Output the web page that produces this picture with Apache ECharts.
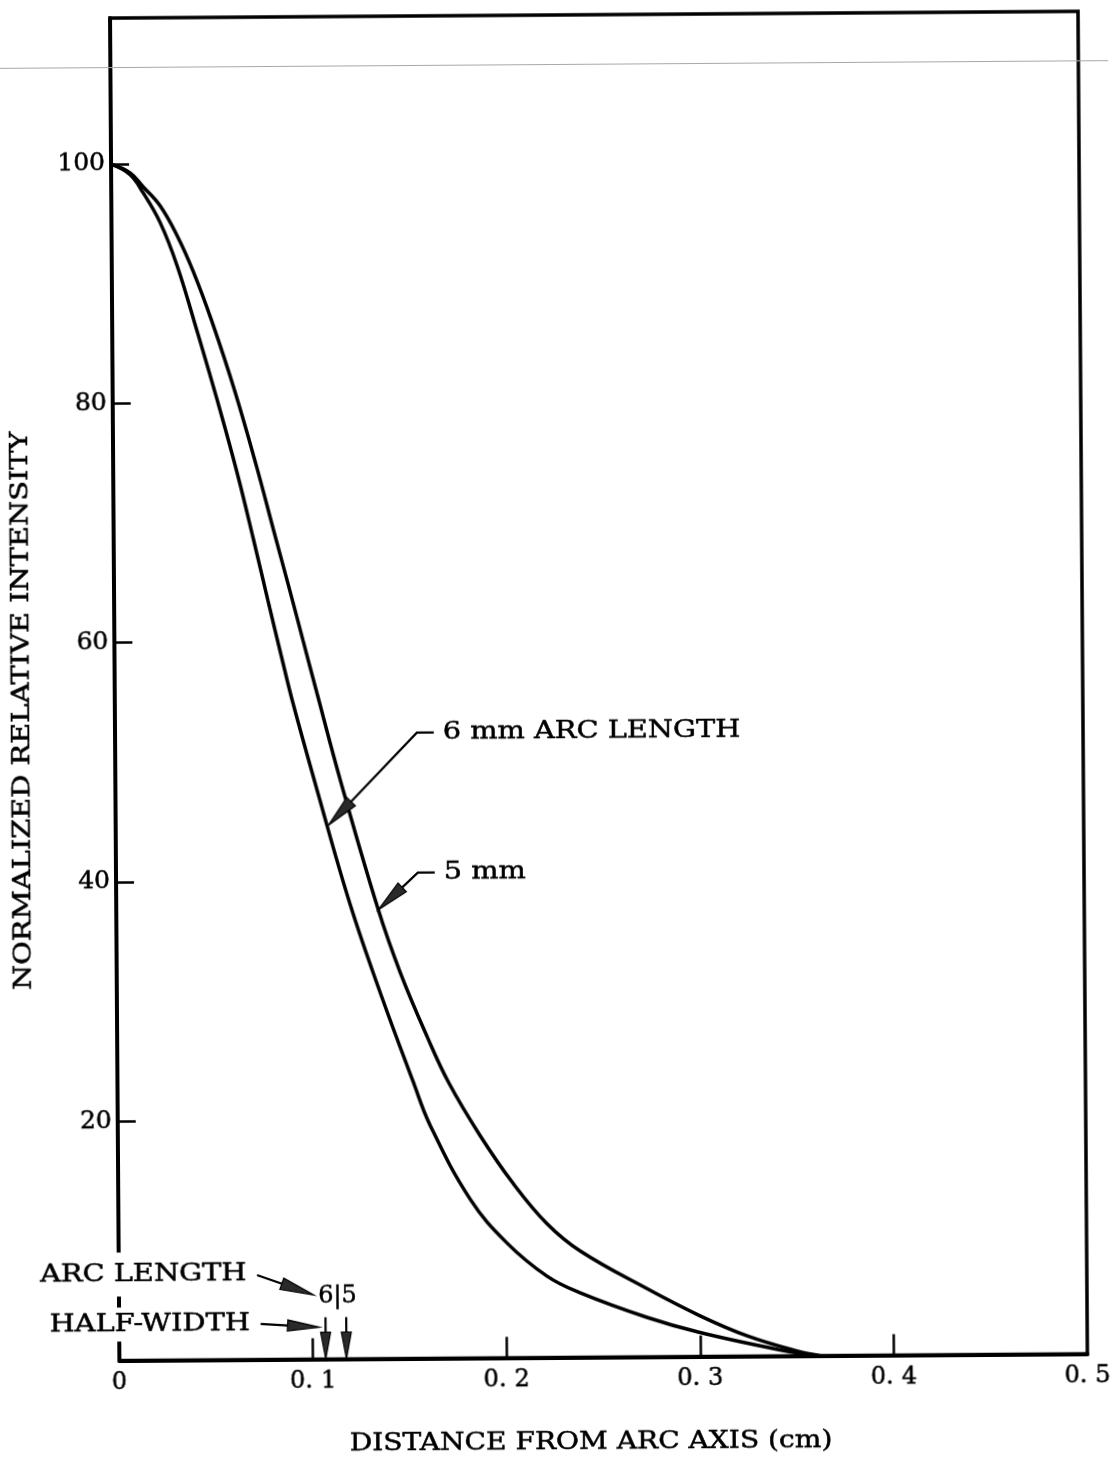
<!DOCTYPE html>
<html>
<head>
<meta charset="utf-8">
<script src="https://cdn.jsdelivr.net/npm/echarts@6/dist/echarts.min.js"></script>
<style>
  html, body { margin: 0; padding: 0; background: #fff; overflow: hidden; }
  #chart { width: 1113px; height: 1457px; transform: rotate(-0.4deg); transform-origin: 50% 50%; }
</style>
</head>
<body>
<div id="chart"></div>
<script>
// Radial intensity profiles of the arc column (distance in cm, intensity in %)
const DIST_6MM = [0, 0.0098, 0.0164, 0.0251, 0.0337, 0.0438, 0.0552, 0.0645, 0.0720, 0.0795, 0.0860, 0.0921, 0.1041, 0.1208, 0.1367, 0.1526, 0.1613, 0.1817, 0.2006, 0.2212, 0.2381, 0.2727, 0.3000, 0.3413, 0.3600];
const INT_6MM  = [100, 99.1, 97.6, 95.1, 91.5, 86.0, 79.5, 73.8, 68.7, 63.4, 58.9, 54.8, 47.6, 38.0, 30.3, 23.2, 19.5, 13.3, 9.6, 6.8, 5.4, 3.3, 2.0, 0.5, 0];
const DIST_5MM = [0, 0.0098, 0.0164, 0.0251, 0.0338, 0.0420, 0.0515, 0.0632, 0.0743, 0.0828, 0.0909, 0.0974, 0.1044, 0.1160, 0.1352, 0.1464, 0.1601, 0.1712, 0.1871, 0.2039, 0.2213, 0.2383, 0.2728, 0.3001, 0.3243, 0.3500, 0.3619];
const INT_5MM  = [100, 99.25, 98.1, 96.5, 94.0, 91.0, 86.8, 80.9, 74.5, 69.2, 64.2, 60.1, 55.7, 48.5, 37.6, 32.3, 26.9, 23.0, 18.6, 14.6, 11.2, 8.9, 5.7, 3.4, 1.7, 0.4, 0];

// Axis ticks
const X_TICKS = [0, 0.1, 0.2, 0.3, 0.4, 0.5];
const Y_TICKS = [20, 40, 60, 80, 100];

// Half-width markers for each arc length (cm)
const ARC_LENGTHS = ['6', '5'];
const HALF_WIDTH = [0.1066, 0.1173];

// Curve callouts: label anchor, leader elbow and arrow tip in data units
const CALLOUTS = [
  { text: '6 mm ARC LENGTH', at: [0.1693, 52.3], elbow: [0.1559, 52.3], tip: [0.1098, 44.6] },
  { text: '5 mm',            at: [0.1693, 40.6], elbow: [0.1559, 40.6], tip: [0.1353, 37.5] }
];

// Key in the lower-left corner
const KEY_ARC   = { text: 'ARC LENGTH', at: [0.0678, 7.19], from: [0.0714, 7.06], tip: [0.1007, 5.37] };
const KEY_HALF  = { text: 'HALF-WIDTH', at: [0.0694, 3.01], from: [0.0731, 2.97], tip: [0.1035, 2.67] };
const KEY_DIGITS = { at: [0.1129, 5.28] };
const MARKER_TOP = 3.5;

const FONT = 'DejaVu Serif';
const INK = '#000';

const pairs = (xs, ys) => xs.map((x, i) => [x, ys[i]]);

const chart = echarts.init(document.getElementById('chart'), null, { renderer: 'canvas' });

const labelInk = { color: INK, textBorderColor: INK, textBorderWidth: 0.5 };

const option = {
  animation: false,
  backgroundColor: '#fff',
  grid: {
    left: 115, right: 30, top: 15, bottom: 99.5,
    show: true, borderColor: INK, borderWidth: 3.5,
    outerBoundsMode: 'none'
  },
  xAxis: {
    type: 'value', min: 0, max: 0.5,
    axisLine: { show: true, onZero: false, lineStyle: { color: INK, width: 4 } },
    axisTick: { show: true, inside: true, length: 21, lineStyle: { color: INK, width: 2.5 },
                customValues: X_TICKS.slice(1, -1) },
    splitLine: { show: false },
    axisLabel: Object.assign({
      customValues: X_TICKS,
      margin: 10,
      fontFamily: FONT, fontSize: 24,
      formatter: v => {
        if (v === 0) return '0';
        const [a, b] = v.toFixed(1).split('.');
        return '{n|' + a + '.}{d|' + b + '}';
      },
      rich: {
        n: Object.assign({ fontFamily: FONT, fontSize: 24 }, labelInk),
        d: Object.assign({ fontFamily: FONT, fontSize: 24, padding: [0, 0, 0, 8] }, labelInk)
      }
    }, labelInk)
  },
  yAxis: {
    type: 'value', min: 0, max: 112.2,
    axisLine: { show: true, onZero: false, lineStyle: { color: INK, width: 4 } },
    axisTick: { show: true, inside: true, length: 18, lineStyle: { color: INK, width: 2.5 },
                customValues: Y_TICKS },
    splitLine: { show: false },
    axisLabel: Object.assign({ customValues: Y_TICKS, margin: 6, fontFamily: FONT, fontSize: 25 }, labelInk)
  },
  series: [
    { name: '6 mm', type: 'line', data: pairs(DIST_6MM, INT_6MM), showSymbol: false, smooth: 0.4,
      lineStyle: { color: INK, width: 3.5 }, z: 5 },
    { name: '5 mm', type: 'line', data: pairs(DIST_5MM, INT_5MM), showSymbol: false, smooth: 0.4,
      lineStyle: { color: INK, width: 3.5 }, z: 5 }
  ]
};

chart.setOption(option);

const px = p => chart.convertToPixel({ gridIndex: 0 }, p);

function text(str, p, align, extra, styleExtra) {
  return Object.assign({
    type: 'text', x: p[0], y: p[1], scaleX: 1.2, z: 102,
    style: Object.assign({
      text: str, fontFamily: FONT, fontSize: 24, fill: INK, stroke: INK, lineWidth: 0.5,
      align: align, textAlign: align, verticalAlign: 'middle', textVerticalAlign: 'middle'
    }, styleExtra || {})
  }, extra || {});
}

// Leader line ending in a tapered, filled arrowhead
function arrow(points, headLen, headW) {
  const T = points[points.length - 1], F = points[points.length - 2];
  const dx = T[0] - F[0], dy = T[1] - F[1], L = Math.hypot(dx, dy);
  const ux = dx / L, uy = dy / L;
  const B = [T[0] - ux * headLen, T[1] - uy * headLen];
  const nx = -uy * headW, ny = ux * headW;
  return [
    { type: 'polyline', z: 100, shape: { points: points.slice(0, -1).concat([B]) },
      style: { stroke: INK, lineWidth: 2.2, fill: null } },
    { type: 'polygon', z: 101, shape: { points: [[B[0] + nx, B[1] + ny], T, [B[0] - nx, B[1] - ny]] },
      style: { fill: '#2a2a2a', stroke: INK, lineWidth: 1.2 } }
  ];
}

const g = [];

// faint page edge running across the sheet
g.push({ type: 'line', z: 1, shape: { x1: 0, y1: 64.5, x2: 1113, y2: 64.5 },
         style: { stroke: '#a8a8a8', lineWidth: 1 } });

// axis titles
g.push(text('DISTANCE FROM ARC AXIS (cm)', [586, 1443], 'center', { scaleX: 1.17 }));
g.push(text('NORMALIZED RELATIVE INTENSITY', [22.6, 707], 'center', { rotation: Math.PI / 2 }));

// curve callouts
CALLOUTS.forEach(c => {
  const a = px(c.at), e = px(c.elbow), t = px(c.tip);
  g.push(text(c.text, a, 'left'));
  g.push(...arrow([[a[0] - 9, a[1]], e, t], 33, 6));
});

// key: arc length / half-width
g.push(text(KEY_ARC.text, px(KEY_ARC.at), 'right', null, { backgroundColor: '#fff', padding: [10, 3] }));
g.push(...arrow([px(KEY_ARC.from), px(KEY_ARC.tip)], 34, 6));

g.push(text(KEY_HALF.text, px(KEY_HALF.at), 'right', null, { backgroundColor: '#fff', padding: [5, 3] }));
g.push(...arrow([px(KEY_HALF.from), px(KEY_HALF.tip)], 32, 5.5));

g.push(text(ARC_LENGTHS.join('|'), px(KEY_DIGITS.at), 'center', { scaleX: 1 }));

// half-width markers pointing down onto the distance axis
HALF_WIDTH.forEach(h => {
  g.push(...arrow([px([h, MARKER_TOP]), px([h, 0])], 27, 5));
});

chart.setOption({ graphic: { elements: g } });
</script>
</body>
</html>
